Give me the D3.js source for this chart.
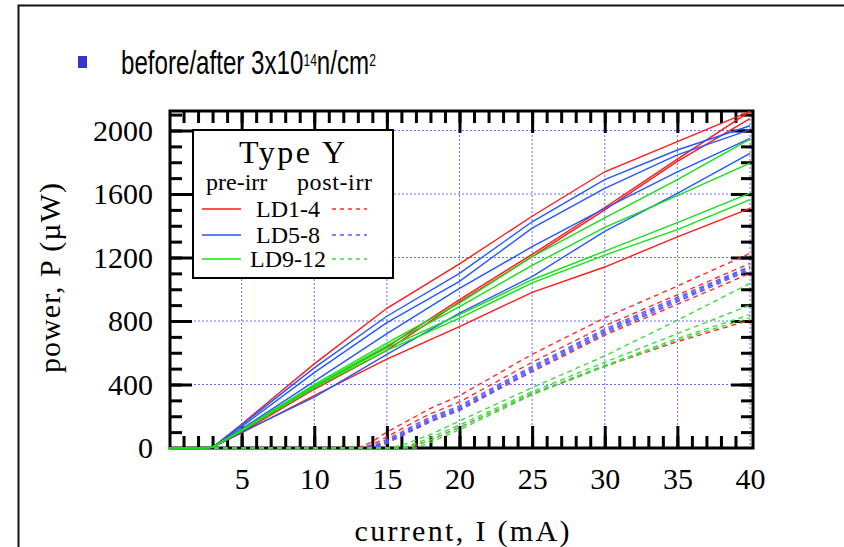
<!DOCTYPE html>
<html>
<head>
<meta charset="utf-8">
<script src="https://cdn.jsdelivr.net/npm/d3@7"></script>
<style>
  body { margin: 0; background: #fff; }
  svg text { font-family: "Liberation Serif", "Times New Roman", serif; fill: #000; }
</style>
</head>
<body>
<div id="chart"></div>
<script>
// current grids (mA) the curves were read at
var preCurrent = [0, 2, 3, 5, 10, 15, 20, 25, 30, 35, 40];
var postCurrent = [0, 12, 13, 14, 15, 16, 17, 18, 20, 25, 30, 35, 40];

// pre-irradiation optical power (uW), solid lines
var preLD1 = [0, 0, 5, 150, 530, 880, 1160, 1460, 1740, 1930, 2120];
var preLD2 = [0, 0, 5, 100, 370, 615, 920, 1205, 1500, 1805, 2075];
var preLD3 = [0, 0, 5, 105, 385, 635, 935, 1220, 1515, 1820, 2120];
var preLD4 = [0, 0, 5, 95, 330, 560, 765, 980, 1140, 1330, 1510];
var preLD5 = [0, 0, 5, 145, 505, 830, 1100, 1425, 1690, 1877, 2030];
var preLD6 = [0, 0, 5, 135, 475, 790, 1050, 1385, 1636, 1846, 2005];
var preLD7 = [0, 0, 5, 120, 420, 720, 1005, 1268, 1510, 1740, 1951];
var preLD8 = [0, 0, 5, 100, 320, 590, 850, 1080, 1365, 1604, 1856];
var preLD9 = [0, 0, 5, 115, 400, 660, 913, 1205, 1450, 1690, 1945];
var preLD10 = [0, 0, 5, 112, 392, 645, 890, 1150, 1390, 1590, 1795];
var preLD11 = [0, 0, 5, 110, 385, 630, 840, 1060, 1240, 1420, 1605];
var preLD12 = [0, 0, 5, 108, 378, 615, 818, 1040, 1215, 1375, 1565];

// post-irradiation optical power (uW), dashed lines
var postLD1 = [0, 0, 0, 40, 100, 150, 200, 250, 330, 590, 820, 1020, 1226];
var postLD2 = [0, 0, 0, 20, 70, 120, 170, 215, 290, 540, 770, 965, 1163];
var postLD3 = [0, 0, 0, 0, 30, 80, 125, 170, 245, 480, 710, 905, 1100];
var postLD4 = [0, 0, 0, 0, 0, 0, 20, 50, 130, 340, 515, 670, 806];
var postLD5 = [0, 0, 0, 10, 55, 100, 150, 195, 265, 515, 750, 950, 1145];
var postLD6 = [0, 0, 0, 5, 45, 90, 140, 185, 255, 505, 740, 940, 1138];
var postLD7 = [0, 0, 0, 0, 40, 85, 130, 175, 245, 495, 730, 930, 1130];
var postLD8 = [0, 0, 0, 0, 30, 75, 120, 165, 235, 485, 720, 920, 1122];
var postLD9 = [0, 0, 0, 0, 0, 15, 50, 85, 170, 380, 580, 805, 1037];
var postLD10 = [0, 0, 0, 0, 0, 0, 30, 65, 145, 355, 540, 720, 900];
var postLD11 = [0, 0, 0, 0, 0, 0, 15, 50, 130, 345, 520, 690, 840];
var postLD12 = [0, 0, 0, 0, 0, 0, 0, 35, 115, 335, 512, 680, 820];

var groupNames = ["LD1-4", "LD5-8", "LD9-12"];
var xTickLabels = [5, 10, 15, 20, 25, 30, 35, 40];
var yTickLabels = [0, 400, 800, 1200, 1600, 2000];

var preColors = ["#ff1a1a", "#2457ff", "#14e014"];
var postColors = ["#ff2a2a", "#5a5aff", "#3fdc3f"];

var preSeries = [preLD1, preLD2, preLD3, preLD4, preLD5, preLD6, preLD7, preLD8, preLD9, preLD10, preLD11, preLD12];
var postSeries = [postLD1, postLD2, postLD3, postLD4, postLD5, postLD6, postLD7, postLD8, postLD9, postLD10, postLD11, postLD12];

var svg = d3.select("#chart")
  .append("svg")
  .attr("width", 844)
  .attr("height", 547);

// slide border
svg.append("rect")
  .attr("x", 18.5).attr("y", 5.5)
  .attr("width", 900).attr("height", 600)
  .attr("fill", "none")
  .attr("stroke", "#111")
  .attr("stroke-width", 2);

// bullet + heading
svg.append("rect")
  .attr("x", 78).attr("y", 56)
  .attr("width", 9).attr("height", 12)
  .attr("fill", "#3535c8");

var head = svg.append("g").attr("transform", "translate(121,74)");
var headText = head.append("text")
  .style("font-family", "'Liberation Sans Narrow', 'Liberation Sans', Arial, sans-serif")
  .style("font-size", "34px");
headText.append("tspan").text("before/after 3x10");
headText.append("tspan").attr("dy", -8).style("font-size", "17px").text("14");
headText.append("tspan").attr("dy", 8).text("n/cm");
headText.append("tspan").attr("dy", -8).style("font-size", "17px").text("2");
var headW = headText.node().getComputedTextLength();
head.attr("transform", "translate(121,74) scale(" + (255 / headW) + ",1)");

var x = d3.scaleLinear().domain([0, 40]).range([169, 750]);
var y = d3.scaleLinear().domain([0, 2000]).range([448, 130.5]);

var plotL = 170, plotR = 753, plotT = 111, plotB = 448;

// grid
svg.append("g").selectAll("line")
  .data(xTickLabels)
  .enter().append("line")
  .attr("x1", function(d) { return x(d); })
  .attr("x2", function(d) { return x(d); })
  .attr("y1", plotT).attr("y2", plotB)
  .attr("stroke", "#6b6bff").attr("stroke-width", 1)
  .attr("stroke-dasharray", "2,2");
svg.append("g").selectAll("line")
  .data(yTickLabels.slice(1))
  .enter().append("line")
  .attr("y1", function(d) { return y(d); })
  .attr("y2", function(d) { return y(d); })
  .attr("x1", plotL).attr("x2", plotR)
  .attr("stroke", "#6b6bff").attr("stroke-width", 1)
  .attr("stroke-dasharray", "2,2");

// inward ticks on all four sides
function ticks(axis, tx, ty) {
  var g = svg.append("g").attr("transform", "translate(" + tx + "," + ty + ")").call(axis);
  g.select(".domain").remove();
  g.selectAll("line").attr("stroke", "#000").attr("stroke-width", 3);
  return g;
}
var minorX = d3.range(1, 40), majorX = [5, 10, 15, 20, 25, 30, 35];
var minorY = d3.range(100, 2101, 100), majorY = [400, 800, 1200, 1600, 2000];
ticks(d3.axisTop(x).tickValues(minorX).tickSize(12).tickFormat(""), 0, plotB);
ticks(d3.axisTop(x).tickValues(majorX).tickSize(22).tickFormat(""), 0, plotB);
ticks(d3.axisBottom(x).tickValues(minorX).tickSize(12).tickFormat(""), 0, plotT);
ticks(d3.axisBottom(x).tickValues(majorX).tickSize(22).tickFormat(""), 0, plotT);
ticks(d3.axisRight(y).tickValues(minorY).tickSize(12).tickFormat(""), plotL, 0);
ticks(d3.axisRight(y).tickValues(majorY).tickSize(22).tickFormat(""), plotL, 0);
ticks(d3.axisLeft(y).tickValues(minorY).tickSize(12).tickFormat(""), plotR, 0);
ticks(d3.axisLeft(y).tickValues(majorY).tickSize(22).tickFormat(""), plotR, 0);

svg.append("rect")
  .attr("x", plotL).attr("y", plotT)
  .attr("width", plotR - plotL).attr("height", plotB - plotT)
  .attr("fill", "none")
  .attr("stroke", "#000")
  .attr("stroke-width", 3);

// tick labels
var xLab = svg.append("g").attr("transform", "translate(0," + plotB + ")")
  .call(d3.axisBottom(x).tickValues(xTickLabels).tickSize(0).tickPadding(20));
xLab.select(".domain").remove();
xLab.attr("font-family", null).attr("font-size", null);
xLab.selectAll("text").style("font-size", "30px");

var yLab = svg.append("g").attr("transform", "translate(" + (plotL + 1) + ",0)")
  .call(d3.axisLeft(y).tickValues(yTickLabels).tickSize(0).tickPadding(18).tickFormat(d3.format("d")));
yLab.select(".domain").remove();
yLab.attr("font-family", null).attr("font-size", null);
yLab.selectAll("text").style("font-size", "30px");

// axis titles
svg.append("text")
  .attr("x", 462).attr("y", 541)
  .attr("text-anchor", "middle")
  .attr("textLength", 215).attr("lengthAdjust", "spacing")
  .style("font-size", "30px")
  .text("current, I (mA)");
svg.append("text")
  .attr("transform", "translate(60,278) rotate(-90)")
  .attr("text-anchor", "middle")
  .attr("textLength", 190).attr("lengthAdjust", "spacing")
  .style("font-size", "30px")
  .text("power, P (\u00b5W)");

// curves
var preLine = d3.line()
  .x(function(d, i) { return x(preCurrent[i]); })
  .y(function(d) { return y(d); });
var postLine = d3.line()
  .x(function(d, i) { return x(postCurrent[i]); })
  .y(function(d) { return y(d); });

svg.append("g").selectAll("path")
  .data(postSeries)
  .enter().append("path")
  .attr("d", postLine)
  .attr("fill", "none")
  .attr("stroke", function(d, i) { return postColors[Math.floor(i / 4)]; })
  .attr("stroke-width", 1.4)
  .attr("stroke-dasharray", "5,4");

svg.append("g").selectAll("path")
  .data(preSeries)
  .enter().append("path")
  .attr("d", preLine)
  .attr("fill", "none")
  .attr("stroke", function(d, i) { return preColors[Math.floor(i / 4)]; })
  .attr("stroke-width", 1.4);

// legend
var legend = svg.append("g");
legend.append("rect")
  .attr("x", 193).attr("y", 130)
  .attr("width", 200).attr("height", 148)
  .attr("fill", "#fff")
  .attr("stroke", "#000")
  .attr("stroke-width", 2);
legend.append("text")
  .attr("x", 292).attr("y", 163)
  .attr("text-anchor", "middle")
  .attr("textLength", 106)
  .style("font-size", "32px")
  .text("Type Y");
legend.append("text")
  .attr("x", 206).attr("y", 190)
  .style("font-size", "24px")
  .text("pre-irr");
legend.append("text")
  .attr("x", 297).attr("y", 190)
  .attr("textLength", 75)
  .style("font-size", "24px")
  .text("post-irr");
var rowY = [209, 235, 259];
groupNames.forEach(function(name, i) {
  legend.append("line")
    .attr("x1", 202).attr("x2", 241)
    .attr("y1", rowY[i]).attr("y2", rowY[i])
    .attr("stroke", preColors[i]).attr("stroke-width", 1.4);
  legend.append("line")
    .attr("x1", 332).attr("x2", 367)
    .attr("y1", rowY[i]).attr("y2", rowY[i])
    .attr("stroke", postColors[i]).attr("stroke-width", 1.4)
    .attr("stroke-dasharray", "4,4");
  legend.append("text")
    .attr("x", 288).attr("y", rowY[i] + 8)
    .attr("text-anchor", "middle")
    .style("font-size", "24px")
    .text(name);
});
</script>
</body>
</html>
